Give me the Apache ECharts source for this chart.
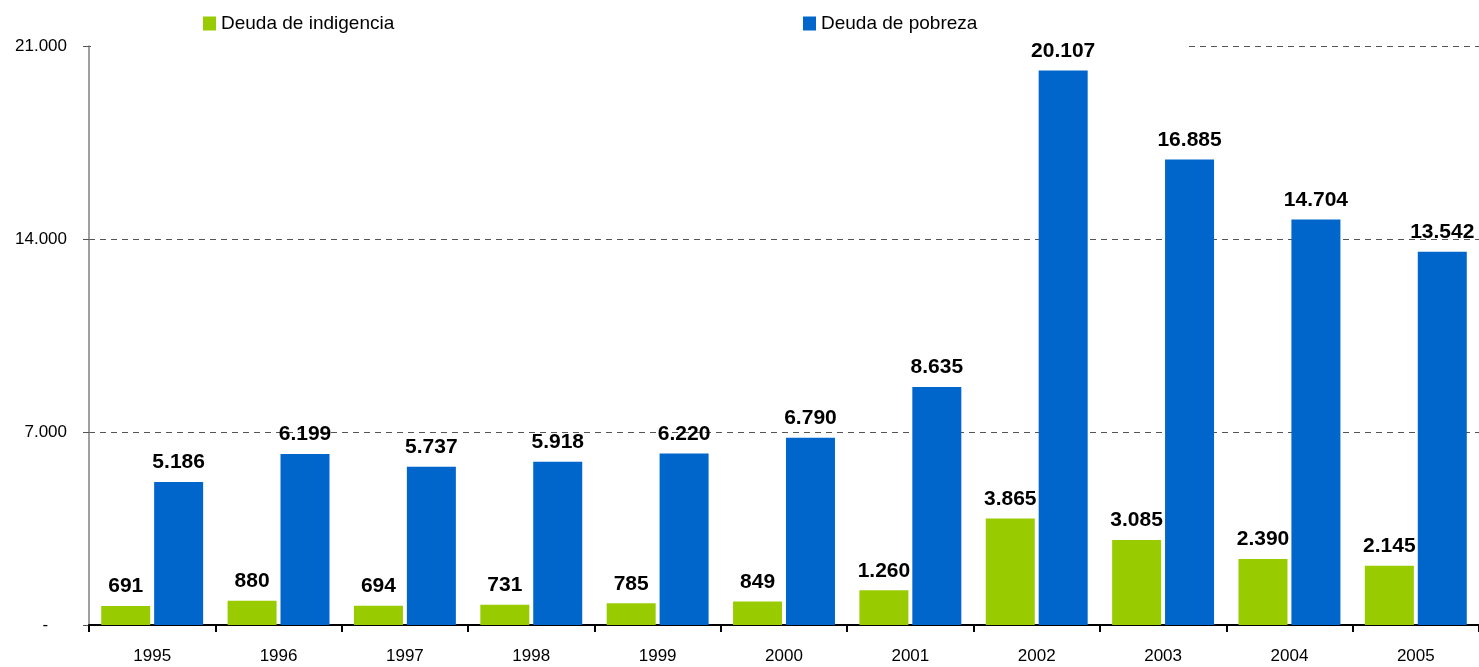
<!DOCTYPE html>
<html>
<head>
<meta charset="utf-8">
<script src="https://cdn.jsdelivr.net/npm/echarts@6/dist/echarts.min.js"></script>
<style>
  html, body { margin: 0; padding: 0; background: #fff; }
  #container { width: 1479px; height: 667px; }
</style>
</head>
<body>
<div id="container"></div>
<script>
// datos
var years = ['1995', '1996', '1997', '1998', '1999', '2000', '2001', '2002', '2003', '2004', '2005'];
var indigencia = [691, 880, 694, 731, 785, 849, 1260, 3865, 3085, 2390, 2145];
var pobreza = [5186, 6199, 5737, 5918, 6220, 6790, 8635, 20107, 16885, 14704, 13542];
var seriesNames = ['Deuda de indigencia', 'Deuda de pobreza'];

var FONT = "'Liberation Sans', Arial, sans-serif";

// separador de miles con punto
function fmt(v) {
    return String(v).replace(/\B(?=(\d{3})+(?!\d))/g, '.');
}

var myChart = echarts.init(document.getElementById('container'));

var labelStyle = {
    show: true,
    position: 'top',
    distance: 9,
    color: '#000',
    fontFamily: FONT,
    fontWeight: 'bold',
    fontSize: 21,
    formatter: function (p) { return fmt(p.value); }
};

myChart.setOption({
    animation: false,
    backgroundColor: '#fff',
    legend: [
        {
            data: [seriesNames[0]],
            left: 91, top: 0,
            padding: [14, 430, 14, 112],
            backgroundColor: '#fff',
            z: 1,
            itemWidth: 13, itemHeight: 14,
            icon: 'rect',
            textStyle: { fontFamily: FONT, fontSize: 19, color: '#000' }
        },
        {
            data: [seriesNames[1]],
            left: 803, top: 0,
            padding: [14, 210, 14, 0],
            backgroundColor: '#fff',
            z: 1,
            itemWidth: 13, itemHeight: 14,
            icon: 'rect',
            textStyle: { fontFamily: FONT, fontSize: 19, color: '#000' }
        }
    ],
    grid: { left: 89, right: -7, top: 46, bottom: 42, containLabel: false },
    xAxis: {
        type: 'category',
        data: years,
        axisLine: { lineStyle: { color: '#000', width: 2 } },
        axisTick: { show: true, length: 7, lineStyle: { color: '#000', width: 2 } },
        axisLabel: { margin: 23, color: '#000', fontFamily: FONT, fontSize: 17 }
    },
    yAxis: {
        type: 'value',
        min: 0, max: 21000, interval: 7000,
        axisLine: { show: true, lineStyle: { color: '#808080', width: 1.5 } },
        axisTick: { show: true, length: 6, lineStyle: { color: '#555' } },
        axisLabel: {
            margin: 22, color: '#000', fontFamily: FONT, fontSize: 17,
            formatter: function (v) { return v === 0 ? '-    ' : fmt(v); }
        },
        splitLine: { show: true, lineStyle: { color: '#555', type: [6, 5], width: 1 } }
    },
    series: [
        {
            name: seriesNames[0],
            type: 'bar',
            data: indigencia,
            barWidth: 49,
            barGap: '8%',
            itemStyle: { color: '#99CC00' },
            label: labelStyle,
            z: 2
        },
        {
            name: seriesNames[1],
            type: 'bar',
            data: pobreza,
            barWidth: 49,
            barGap: '8%',
            itemStyle: { color: '#0066CC' },
            label: labelStyle,
            z: 2
        }
    ]
});
</script>
</body>
</html>
